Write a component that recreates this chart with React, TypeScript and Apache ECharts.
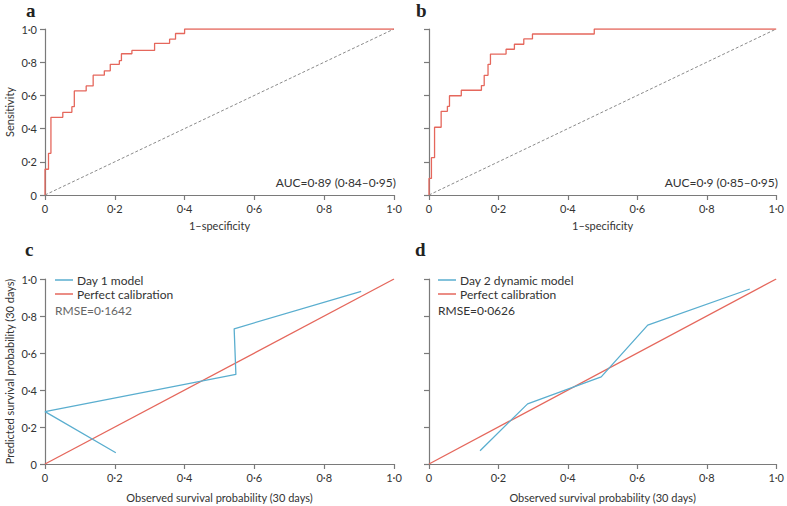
import React, { useEffect, useRef } from "react";
import * as echarts from "echarts";

// ROC curve a: at each false-positive rate, sensitivity steps up to the given level
const rocAFpr = [0, 0.01, 0.017, 0.051, 0.077, 0.084, 0.118, 0.138, 0.17, 0.187, 0.213, 0.219, 0.249, 0.314, 0.357, 0.374, 0.4, 1.0];
const rocATpr = [0.155, 0.251, 0.468, 0.498, 0.532, 0.627, 0.657, 0.722, 0.748, 0.787, 0.809, 0.851, 0.871, 0.914, 0.939, 0.973, 1.0, 1.0];

// ROC curve b
const rocBFpr = [0, 0.007, 0.016, 0.035, 0.053, 0.059, 0.093, 0.151, 0.159, 0.17, 0.177, 0.222, 0.246, 0.273, 0.298, 0.476, 1.0];
const rocBTpr = [0.1, 0.225, 0.408, 0.504, 0.534, 0.598, 0.631, 0.659, 0.721, 0.787, 0.849, 0.878, 0.908, 0.94, 0.97, 1.0, 1.0];

// Calibration c: Day 1 model (observed, predicted)
const day1Observed = [0.203, 0.0, 0.547, 0.542, 0.906];
const day1Predicted = [0.061, 0.283, 0.484, 0.731, 0.933];

// Calibration d: Day 2 dynamic model
const day2Observed = [0.147, 0.284, 0.496, 0.63, 0.924];
const day2Predicted = [0.072, 0.325, 0.471, 0.751, 0.946];

const perfectLine = [[0, 0], [1, 1]];

const RED = "#e5675c";
const BLUE = "#5aaecf";
const FONT = "Lato";

const fmt = (v: number) => (v === 0 ? "0" : v.toFixed(1).replace(".", "\u00b7"));

function rocData(fpr: number[], tpr: number[]) {
  const d: number[][] = [[0, 0]];
  fpr.forEach((x, i) => d.push([x, tpr[i]]));
  return d;
}
function pairs(xs: number[], ys: number[]) {
  return xs.map((x, i) => [x, ys[i]]);
}

export default function App() {
  const ref = useRef<HTMLDivElement>(null);
  useEffect(() => {
    if (!ref.current) return;
    const chart = echarts.init(ref.current, undefined, { renderer: "svg" });
    const grids = [
      { left: 45, top: 29, width: 349, height: 166 },
      { left: 429, top: 29, width: 349, height: 166 },
      { left: 45, top: 279, width: 349, height: 185 },
      { left: 429, top: 279, width: 349, height: 185 },
    ];
    const axisLine = { lineStyle: { color: "#7a7a7a", width: 1.2 } };
    const axisTick = { show: true, inside: false, length: 5, lineStyle: { color: "#7a7a7a", width: 1.2 } };
    const labelStyle = { fontFamily: FONT, fontSize: 11, color: "#333" };
    const xNames = ["1\u2013specificity", "1\u2013specificity", "Observed survival probability (30 days)", "Observed survival probability (30 days)"];
    const yNames = ["Sensitivity", "", "Predicted survival probability (30 days)", ""];
    const xAxis = grids.map((_, i) => ({
      type: "value",
      gridIndex: i,
      min: 0,
      max: 1,
      interval: 0.2,
      splitLine: { show: false },
      axisLine: { ...axisLine, onZero: false },
      axisTick,
      axisLabel: { ...labelStyle, margin: 8, formatter: fmt },
      name: xNames[i],
      nameLocation: "middle",
      nameGap: i < 2 ? 25 : 28,
      nameTextStyle: { fontFamily: FONT, fontSize: 11, color: "#333" },
    }));
    const yAxis = grids.map((_, i) => ({
      type: "value",
      gridIndex: i,
      min: 0,
      max: 1,
      interval: 0.2,
      splitLine: { show: false },
      axisLine: { ...axisLine, onZero: false },
      axisTick,
      axisLabel: { ...labelStyle, margin: 8, formatter: fmt, show: i % 2 === 0 },
      name: yNames[i],
      nameLocation: "middle",
      nameGap: 30,
      nameTextStyle: { fontFamily: FONT, fontSize: 11, color: "#333" },
    }));
    const line = (name: string, idx: number, data: number[][], color: string, extra: any = {}) => ({
      type: "line",
      name,
      xAxisIndex: idx,
      yAxisIndex: idx,
      data,
      showSymbol: false,
      symbol: "none",
      lineStyle: { color, width: 1.3 },
      itemStyle: { color },
      ...extra,
    });
    const diag = (idx: number) =>
      line("Chance", idx, perfectLine, "#8a8a8a", { lineStyle: { color: "#8a8a8a", width: 1, type: [3, 2] }, z: 1 });
    const series = [
      diag(0),
      line("ROC a", 0, rocData(rocAFpr, rocATpr), RED, { step: "end", z: 3 }),
      diag(1),
      line("ROC b", 1, rocData(rocBFpr, rocBTpr), RED, { step: "end", z: 3 }),
      line("Day 1 model", 2, pairs(day1Observed, day1Predicted), BLUE, { z: 3 }),
      line("Perfect calibration", 2, perfectLine, RED, { z: 2 }),
      line("Day 2 dynamic model", 3, pairs(day2Observed, day2Predicted), BLUE, { z: 3 }),
      line("Perfect calibration", 3, perfectLine, RED, { z: 2 }),
    ];
    const legendBase = {
      orient: "vertical",
      icon: "rect",
      itemWidth: 18,
      itemHeight: 1.5,
      itemGap: 2,
      padding: 0,
      selectedMode: false,
      textStyle: { fontFamily: FONT, fontSize: 12, color: "#333", padding: [0, 0, 0, -1] },
    };
    const panelLabel = (t: string, x: number, y: number) => ({
      type: "text",
      left: x,
      top: y,
      style: { text: t, font: "bold 19px 'Liberation Serif'", fill: "#222" },
    });
    chart.setOption({
      animation: false,
      grid: grids,
      xAxis,
      yAxis,
      series,
      legend: [
        { ...legendBase, left: 55, top: 274, data: ["Day 1 model", "Perfect calibration"] },
        { ...legendBase, left: 438, top: 274, data: ["Day 2 dynamic model", "Perfect calibration"] },
      ],
      graphic: [
        panelLabel("a", 26, 1),
        panelLabel("b", 416, 1),
        panelLabel("c", 25, 240),
        panelLabel("d", 415, 240),
        {
          type: "text",
          x: 396,
          y: 182,
          style: { text: "AUC=0\u00b789 (0\u00b784\u20130\u00b795)", font: `12px ${FONT}`, fill: "#333", align: "right", verticalAlign: "middle" },
        },
        {
          type: "text",
          x: 778,
          y: 182,
          style: { text: "AUC=0\u00b79 (0\u00b785\u20130\u00b795)", font: `12px ${FONT}`, fill: "#333", align: "right", verticalAlign: "middle" },
        },
        {
          type: "text",
          x: 55,
          y: 310,
          style: { text: "RMSE=0\u00b71642", font: `12px ${FONT}`, fill: "#666", verticalAlign: "middle" },
        },
        {
          type: "text",
          x: 438,
          y: 310,
          style: { text: "RMSE=0\u00b70626", font: `12px ${FONT}`, fill: "#333", verticalAlign: "middle" },
        },
      ],
    });
    return () => chart.dispose();
  }, []);
  return (
    <div
      ref={ref}
      style={{ position: "fixed", left: 0, top: 0, width: 787, height: 506, background: "#fff" }}
    />
  );
}
